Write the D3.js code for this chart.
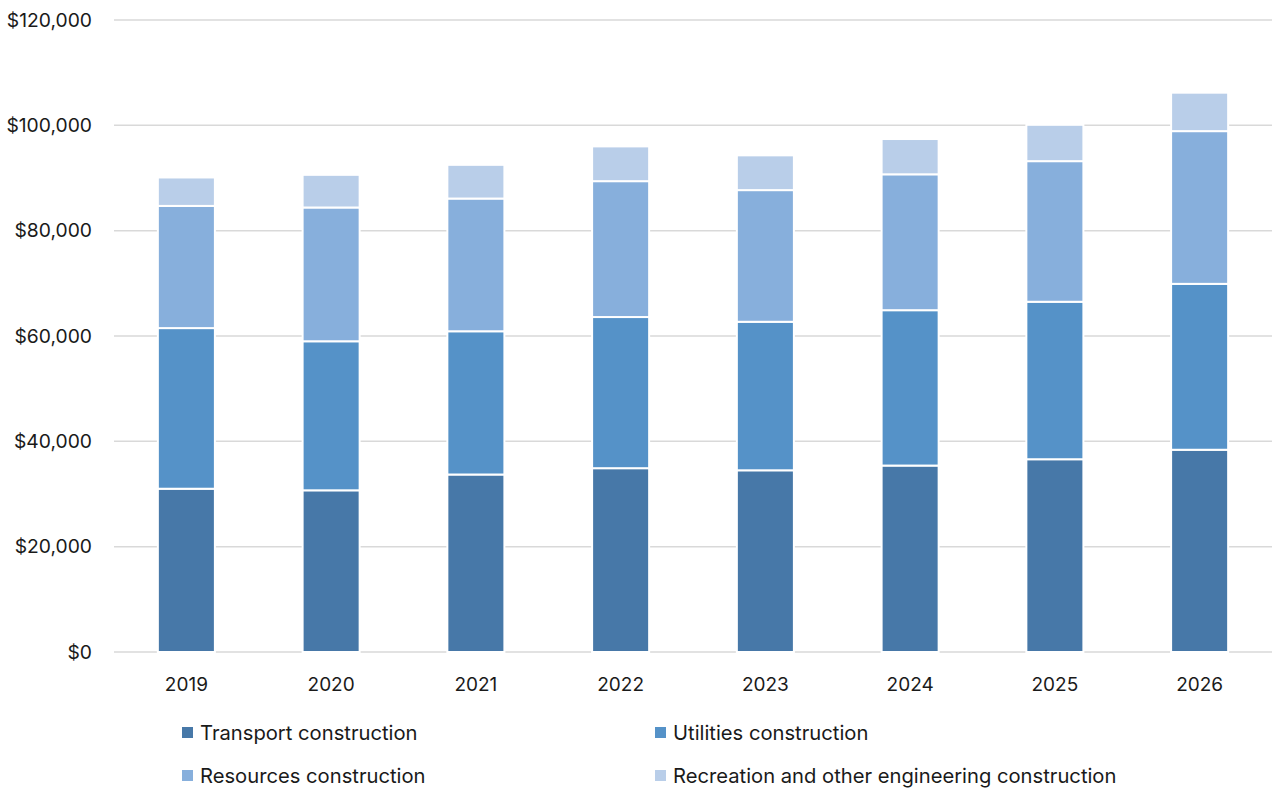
<!DOCTYPE html>
<html>
<head>
<meta charset="utf-8">
<script src="https://cdn.jsdelivr.net/npm/d3@7"></script>
<style>
  body { margin: 0; background: #fff; }
  svg text { font-family: Inter, "Noto Sans", sans-serif; fill: #1a1a1a; }
</style>
</head>
<body>
<svg id="chart" width="1272" height="792"></svg>
<script>
const years = ["2019", "2020", "2021", "2022", "2023", "2024", "2025", "2026"];
const seriesNames = ["Transport construction", "Utilities construction", "Resources construction", "Recreation and other engineering construction"];
const transport  = [31000, 30700, 33700, 34900, 34500, 35400, 36600, 38400];
const utilities  = [30500, 28300, 27200, 28700, 28200, 29500, 29900, 31500];
const resources  = [23200, 25400, 25200, 25800, 25000, 25800, 26700, 29000];
const recreation = [5400, 6200, 6400, 6600, 6600, 6700, 6900, 7300];
const yTicks = [0, 20000, 40000, 60000, 80000, 100000, 120000];
const colors = ["#4778a8", "#5592c8", "#87afdc", "#b9cee9"];

const seriesValues = [transport, utilities, resources, recreation];
const table = years.map((yr, i) => {
  const row = { year: yr };
  seriesNames.forEach((s, j) => row[s] = seriesValues[j][i]);
  return row;
});

const svg = d3.select("#chart");
const mLeft = 114, mRight = 1272, mTop = 20, mBottom = 652;

const x = d3.scaleBand().domain(years).range([mLeft, mRight]).paddingInner(0.606).paddingOuter(0.303);
const y = d3.scaleLinear().domain([0, 120000]).range([mBottom, mTop]);

// gridlines
svg.append("g").selectAll("line").data(yTicks).join("line")
  .attr("x1", mLeft).attr("x2", mRight)
  .attr("y1", d => y(d)).attr("y2", d => y(d))
  .attr("stroke", "#d9d9d9").attr("stroke-width", 1.5);

// y axis labels
const yAxis = d3.axisLeft(y).tickValues(yTicks).tickSize(0).tickPadding(0)
  .tickFormat(d => "$" + d3.format(",")(d));
const gy = svg.append("g").attr("transform", `translate(92,0)`).call(yAxis);
gy.select(".domain").remove();
gy.selectAll("text").attr("font-size", 19.3).attr("font-family", "Inter, sans-serif").attr("fill", "#1a1a1a");

// bars
const stack = d3.stack().keys(seriesNames)(table);
svg.append("g").selectAll("g").data(stack).join("g")
  .attr("fill", (d, i) => colors[i])
  .selectAll("rect").data(d => d).join("rect")
  .attr("x", d => x(d.data.year))
  .attr("width", x.bandwidth())
  .attr("y", d => y(d[1]))
  .attr("height", d => y(d[0]) - y(d[1]))
  .attr("stroke", "#ffffff").attr("stroke-width", 2);

// x axis
const xAxis = d3.axisBottom(x).tickSize(0).tickPadding(0);
const gx = svg.append("g").attr("transform", `translate(0,${mBottom})`).call(xAxis);
gx.select(".domain").remove();
gx.selectAll("text").attr("font-size", 19).attr("font-family", "Inter, sans-serif").attr("fill", "#1a1a1a")
  .attr("dy", "0").attr("y", 39);

// legend
const legendPos = [[182, 733], [655, 733], [182, 776], [655, 776]];
const order = [0, 1, 2, 3];
const lg = svg.append("g").selectAll("g").data(order).join("g")
  .attr("transform", (d, i) => `translate(${legendPos[i][0]},${legendPos[i][1]})`);
lg.append("rect").attr("x", 0).attr("y", -6).attr("width", 11).attr("height", 11).attr("fill", d => colors[d]);
lg.append("text").attr("x", 18).attr("y", 0).attr("dy", "0.35em")
  .attr("font-size", 20.2).text(d => seriesNames[d]);
</script>
</body>
</html>
